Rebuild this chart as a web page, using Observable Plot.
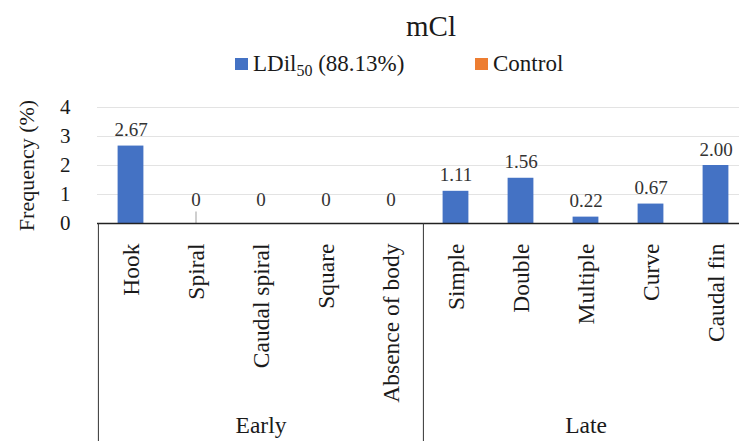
<!DOCTYPE html>
<html>
<head>
<meta charset="utf-8">
<script src="https://cdn.jsdelivr.net/npm/d3@7"></script>
<script src="https://cdn.jsdelivr.net/npm/@observablehq/plot@0.6"></script>
<style>
  html, body { margin: 0; padding: 0; background: #fff; }
  #wrap { position: relative; width: 739px; height: 441px; overflow: hidden; font-family: "Liberation Serif", "DejaVu Serif", serif; color: #1a1a1a; }
  #title { position: absolute; left: 331px; width: 200px; top: 8px; text-align: center; font-size: 29px; line-height: 36px; }
  .legend { position: absolute; top: 50px; font-size: 23px; line-height: 28px; display: flex; align-items: center; white-space: nowrap; }
  .legend .sw { width: 13px; height: 12px; margin-right: 5px; display: inline-block; }
  .legend sub { font-size: 16px; vertical-align: -5px; line-height: 0; }
  #chart { position: absolute; left: 0; top: 0; }
  #chart svg text { font-family: "Liberation Serif", "DejaVu Serif", serif !important; }
</style>
</head>
<body>
<div id="wrap">
  <div id="chart"></div>
  <div id="title">mCl</div>
  <div class="legend" style="left:235px"><span class="sw" style="background:#4472C4"></span><span>LDil<sub>50</sub> (88.13%)</span></div>
  <div class="legend" style="left:475px"><span class="sw" style="background:#ED7D31"></span><span>Control</span></div>
</div>
<script>
// Tail shape categories and their developmental stage
const categories = ["Hook", "Spiral", "Caudal spiral", "Square", "Absence of body",
                    "Simple", "Double", "Multiple", "Curve", "Caudal fin"];
const stages = ["Early", "Early", "Early", "Early", "Early",
                "Late", "Late", "Late", "Late", "Late"];
// Frequencies (%)
const ldil50 = [2.67, 0, 0, 0, 0, 1.11, 1.56, 0.22, 0.67, 2.00];
const control = [0, 0, 0, 0, 0, 0, 0, 0, 0, 0];
const yTicks = [0, 1, 2, 3, 4];
// stage group labels sit under the middle category of each group
const stageNames = ["Early", "Late"];
const stageMiddle = ["Caudal spiral", "Multiple"];
const stageStart = ["Hook", "Simple"];
// leader line for the moved "Spiral" data label
const leader = [{category: "Spiral", from: 0, to: 0.4}];

const rows = categories.map((c, i) => ({category: c, stage: stages[i], ldil: ldil50[i], control: control[i]}));
const fmt = v => v === 0 ? "0" : v.toFixed(2);

const x0 = 97, x1 = 749;
const bw = (x1 - x0) / categories.length;
const inset = (bw - 26) / 2;
const serif = "'Liberation Serif', 'DejaVu Serif', serif";

const chart = Plot.plot({
  width: 739,
  height: 441,
  marginTop: 107,
  marginBottom: 218,
  marginLeft: 97,
  marginRight: 0,
  style: {fontFamily: serif, color: "#1a1a1a", background: "transparent"},
  x: {domain: categories, range: [x0, x1], padding: 0, axis: null},
  y: {domain: [0, 4]},
  marks: [
    Plot.gridY(yTicks.slice(1), {stroke: "#e3e3e3", strokeOpacity: 1}),
    Plot.axisY(yTicks, {tickSize: 0, tickPadding: 27, fontSize: 21, label: null}),
    Plot.text(["Frequency (%)"], {frameAnchor: "left", dx: -71, rotate: -90, textAnchor: "middle", fontSize: 22, fill: "#1a1a1a"}),
    Plot.barY(rows, {x: "category", y: "control", fill: "#ED7D31", insetLeft: inset, insetRight: inset}),
    Plot.barY(rows, {x: "category", y: "ldil", fill: "#4472C4", insetLeft: inset, insetRight: inset}),
    Plot.ruleX(leader, {x: "category", y1: "from", y2: "to", stroke: "#bfbfbf", strokeWidth: 1.5}),
    Plot.ruleY([0], {stroke: "#222", strokeWidth: 1.3}),
    // data labels
    Plot.text(rows.filter(d => d.ldil !== 0), {x: "category", y: "ldil", text: d => fmt(d.ldil), dy: -16, fontSize: 19, fill: "#333"}),
    Plot.text(rows.filter(d => d.ldil === 0), {x: "category", y: "ldil", text: d => fmt(d.ldil), dy: -24, fontSize: 19, fill: "#333"}),
    // rotated category labels
    Plot.text(categories, {x: d => d, frameAnchor: "bottom", dy: 20, rotate: -90, textAnchor: "end", lineAnchor: "middle", fontSize: 23.5, fill: "#1a1a1a"}),
    // stage group separators and labels
    Plot.ruleX(stageStart, {x: d => d, dx: -bw / 2, y1: 0, y2: -8, stroke: "#333", strokeWidth: 1}),
    Plot.text(stageNames, {x: (d, i) => stageMiddle[i], frameAnchor: "bottom", dy: 209, fontSize: 23.5, fill: "#1a1a1a"})
  ]
});
document.getElementById("chart").appendChild(chart);
</script>
</body>
</html>
